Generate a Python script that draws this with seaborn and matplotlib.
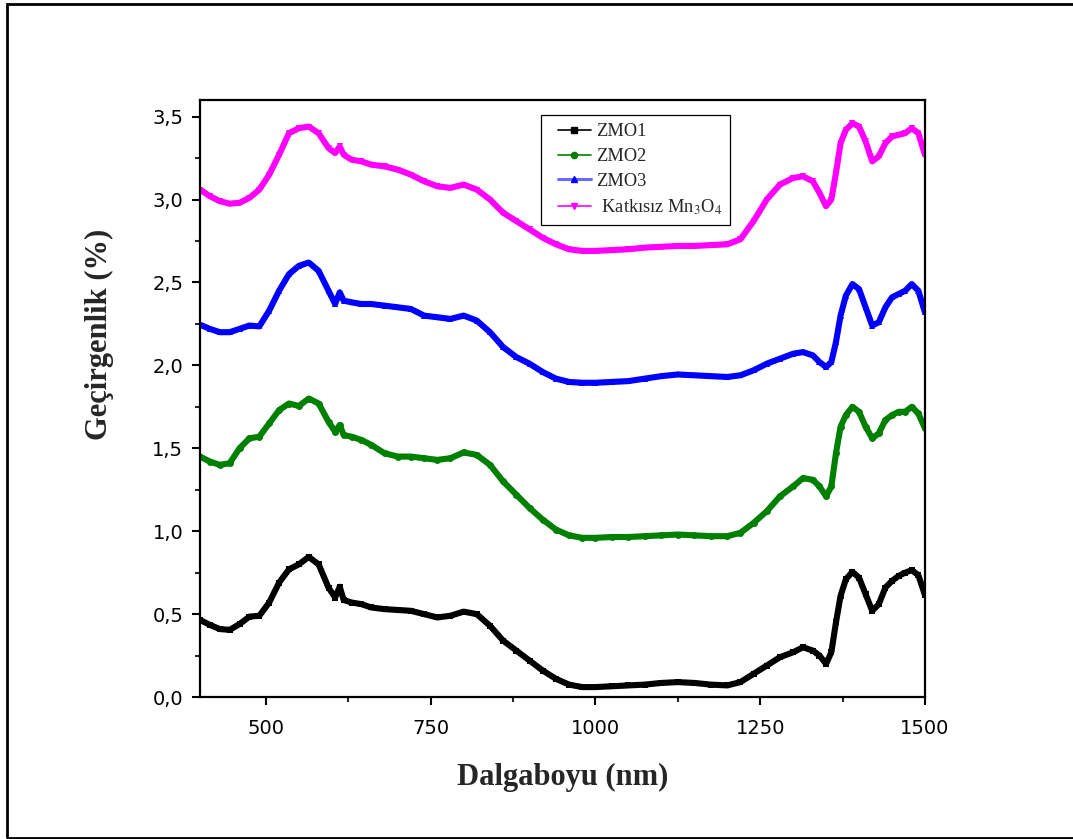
import matplotlib
matplotlib.use("Agg")
import matplotlib.pyplot as plt
import seaborn as sns
import pandas as pd
from matplotlib.lines import Line2D
from matplotlib.patches import Rectangle
from matplotlib.legend_handler import HandlerLine2D
from matplotlib.ticker import MultipleLocator, FuncFormatter

# Transmittance spectra (wavelength in nm, transmittance offset per sample)
wavelength = [400, 415, 430, 445, 460, 475, 490, 505, 520, 535, 550, 565, 580, 595,
              605, 612, 618, 630, 645, 660, 680, 700, 720, 740, 760, 780, 800, 820,
              840, 860, 880, 900, 920, 940, 960, 980, 1000, 1025, 1050, 1075, 1100,
              1125, 1150, 1175, 1200, 1220, 1240, 1260, 1280, 1300, 1315, 1330, 1340,
              1350, 1358, 1365, 1372, 1380, 1390, 1400, 1410, 1420, 1430, 1440, 1450,
              1460, 1470, 1480, 1490, 1500]

zmo1 = [0.465, 0.435, 0.41, 0.405, 0.44, 0.485, 0.49, 0.57, 0.69, 0.77, 0.80, 0.845,
        0.80, 0.66, 0.60, 0.665, 0.585, 0.57, 0.56, 0.54, 0.53, 0.525, 0.52, 0.50,
        0.48, 0.49, 0.515, 0.50, 0.43, 0.34, 0.28, 0.22, 0.16, 0.11, 0.075, 0.06,
        0.06, 0.065, 0.07, 0.075, 0.085, 0.09, 0.085, 0.075, 0.07, 0.09, 0.14, 0.19,
        0.24, 0.27, 0.30, 0.28, 0.25, 0.20, 0.27, 0.45, 0.61, 0.71, 0.755, 0.72,
        0.62, 0.52, 0.56, 0.66, 0.70, 0.73, 0.75, 0.765, 0.735, 0.615]

zmo2 = [1.45, 1.42, 1.40, 1.41, 1.50, 1.56, 1.57, 1.65, 1.73, 1.77, 1.755, 1.80,
        1.77, 1.66, 1.60, 1.64, 1.58, 1.57, 1.55, 1.52, 1.47, 1.45, 1.45, 1.44,
        1.43, 1.44, 1.475, 1.46, 1.40, 1.30, 1.22, 1.14, 1.07, 1.01, 0.975, 0.96,
        0.96, 0.965, 0.965, 0.97, 0.975, 0.98, 0.975, 0.97, 0.97, 0.99, 1.05, 1.12,
        1.21, 1.27, 1.32, 1.31, 1.27, 1.21, 1.27, 1.47, 1.63, 1.70, 1.75, 1.72,
        1.63, 1.56, 1.59, 1.67, 1.70, 1.72, 1.72, 1.75, 1.71, 1.62]

zmo3 = [2.245, 2.22, 2.20, 2.20, 2.22, 2.24, 2.235, 2.33, 2.45, 2.55, 2.60, 2.62,
        2.57, 2.45, 2.37, 2.44, 2.39, 2.38, 2.37, 2.37, 2.36, 2.35, 2.34, 2.30,
        2.29, 2.28, 2.30, 2.27, 2.20, 2.11, 2.05, 2.01, 1.96, 1.92, 1.90, 1.895,
        1.895, 1.90, 1.905, 1.92, 1.935, 1.945, 1.94, 1.935, 1.93, 1.94, 1.97, 2.01,
        2.04, 2.07, 2.08, 2.06, 2.02, 1.99, 2.02, 2.14, 2.30, 2.42, 2.49, 2.46,
        2.35, 2.24, 2.26, 2.35, 2.41, 2.43, 2.45, 2.49, 2.45, 2.32]

undoped = [3.06, 3.02, 2.99, 2.975, 2.98, 3.01, 3.06, 3.15, 3.27, 3.40, 3.43, 3.44,
           3.40, 3.31, 3.28, 3.32, 3.27, 3.24, 3.23, 3.21, 3.20, 3.18, 3.15, 3.11,
           3.08, 3.07, 3.09, 3.06, 3.00, 2.92, 2.87, 2.82, 2.77, 2.73, 2.70, 2.69,
           2.69, 2.695, 2.70, 2.71, 2.715, 2.72, 2.72, 2.725, 2.73, 2.76, 2.87, 3.00,
           3.09, 3.13, 3.14, 3.11, 3.04, 2.96, 3.00, 3.16, 3.34, 3.42, 3.46, 3.44,
           3.35, 3.23, 3.26, 3.34, 3.38, 3.39, 3.40, 3.43, 3.40, 3.27]

series_names = ["ZMO1", "ZMO2", "ZMO3", " Katkısız Mn$_3$O$_4$"]
series_values = [zmo1, zmo2, zmo3, undoped]
colors = ["#000000", "#008000", "#0000ff", "#ff00ff"]
marker_shapes = ["s", "o", "^", "v"]

frames = []
for name, vals in zip(series_names, series_values):
    frames.append(pd.DataFrame({"wavelength": wavelength, "T": vals, "sample": name}))
df = pd.concat(frames, ignore_index=True)

sns.set_theme(style="ticks")
plt.rcParams["font.family"] = ["DejaVu Sans"]
plt.rcParams["mathtext.fontset"] = "stix"

fig = plt.figure(figsize=(10.73, 8.39), dpi=100)
ax = fig.add_axes([0.1864, 0.1692, 0.6756, 0.7116])

for name, col, mk in zip(series_names, colors, marker_shapes):
    sub = df[df["sample"] == name]
    sns.lineplot(data=sub, x="wavelength", y="T", color=col, lw=4.4,
                 marker=mk, markersize=5, markeredgewidth=0, sort=False,
                 estimator=None, ax=ax, legend=False)

ax.set_xlim(400, 1500)
ax.set_ylim(0, 3.6)
ax.xaxis.set_major_locator(MultipleLocator(250))
ax.xaxis.set_minor_locator(MultipleLocator(125))
ax.yaxis.set_major_locator(MultipleLocator(0.5))
ax.yaxis.set_minor_locator(MultipleLocator(0.25))
ax.yaxis.set_major_formatter(FuncFormatter(lambda v, _: f"{v:.1f}".replace(".", ",")))

ax.tick_params(which="major", direction="out", length=6, width=1.5, labelsize=14,
               colors="black", top=False, right=False)
ax.tick_params(which="minor", direction="out", length=3.5, width=1.5,
               top=False, right=False)
ax.tick_params(axis="x", which="major", pad=10)
ax.tick_params(axis="y", which="major", pad=6)

for sp in ax.spines.values():
    sp.set_visible(True)
    sp.set_color("black")
    sp.set_linewidth(1.6)

ax.set_xlabel("Dalgaboyu (nm)", fontfamily="Liberation Serif", fontweight="bold",
              fontsize=22, labelpad=18)
ax.set_ylabel("Geçirgenlik (%)", fontfamily="Liberation Serif", fontweight="bold",
              fontsize=22)
ax.yaxis.set_label_coords(-0.119, 0.608)

handles = []
for name, col, mk in zip(series_names, colors, marker_shapes):
    if col == "#0000ff":
        h = Line2D([], [], color="#6a6aff", lw=2.2, marker=mk, markersize=5,
                   markerfacecolor=col, markeredgecolor=col)
    else:
        h = Line2D([], [], color=col, lw=1.2, marker=mk, markersize=4.5,
                   markerfacecolor=col, markeredgecolor=col)
    handles.append(h)

leg = ax.legend(handles, series_names, loc="upper left", bbox_to_anchor=(0.458, 0.99),
                frameon=True, fancybox=False, edgecolor="black", framealpha=1,
                prop={"family": "Liberation Serif", "size": 13.2}, handlelength=2.24,
                handletextpad=0.33, labelspacing=0.42, borderpad=0.45,
                handler_map={Line2D: HandlerLine2D(xpad=0.44)})
leg.get_frame().set_linewidth(0.9)

# outer page frame
fig.add_artist(Rectangle((7 / 1073, 1 / 839), 1.2, (838 - 4) / 839,
                         transform=fig.transFigure, fill=False, edgecolor="black",
                         linewidth=2, clip_on=False))

fig.savefig("out.png", dpi=100, facecolor="white")
